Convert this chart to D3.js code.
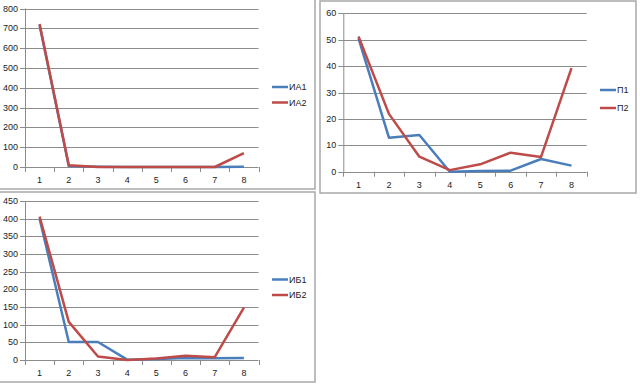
<!DOCTYPE html>
<html><head><meta charset="utf-8">
<script src="https://cdn.jsdelivr.net/npm/d3@7"></script>
<style>body{margin:0;background:#fff}svg{display:block}text{font-family:"Liberation Sans",Arial,sans-serif;font-size:9px;fill:#222}</style>
</head><body>
<svg id="c" width="640" height="390"></svg>
<script>
const categories = [1,2,3,4,5,6,7,8];
const seriesIA1 = [715, 5, 1, 0, 0, 0, 0, 1];
const seriesIA2 = [722, 9, 0, 0, 0, 0, 0, 70];
const seriesP1 = [50.5, 12.9, 13.9, 0, 0.3, 0.4, 4.8, 2.3];
const seriesP2 = [51.2, 21.9, 5.7, 0.6, 2.8, 7.2, 5.6, 39.2];
const seriesIB1 = [400, 51, 51, 1, 3, 6, 5, 6];
const seriesIB2 = [406, 108, 10, 0, 4, 12, 8, 148];
const ticksIA = [0,100,200,300,400,500,600,700,800];
const ticksP = [0,10,20,30,40,50,60];
const ticksIB = [0,50,100,150,200,250,300,350,400,450];
const namesIA = ["ИА1","ИА2"], namesP = ["П1","П2"], namesIB = ["ИБ1","ИБ2"];
const colors = ["#4a7ebb","#be4b48"];

const svg = d3.select("#c");

function chart(o){
  const g = svg.append("g");
  g.append("rect").attr("x",o.box[0]).attr("y",o.box[1]).attr("width",o.box[2]-o.box[0]).attr("height",o.box[3]-o.box[1])
    .attr("fill","none").attr("stroke","#a8a8a8").attr("stroke-width",1.5);
  const x = d3.scaleBand().domain(o.cats).range([o.plot[0],o.plot[2]]);
  const y = d3.scaleLinear().domain([0,d3.max(o.ticks)]).range([o.plot[3],o.plot[1]]);
  // gridlines
  g.selectAll(".gl").data(o.ticks).enter().append("line")
    .attr("x1",o.plot[0]-5).attr("x2",o.plot[2]).attr("y1",d=>Math.round(y(d))+0.5).attr("y2",d=>Math.round(y(d))+0.5)
    .attr("stroke","#8c8c8c").attr("stroke-width",1);
  // y axis line
  g.append("line").attr("x1",o.plot[0]+0.5).attr("x2",o.plot[0]+0.5).attr("y1",o.plot[1]).attr("y2",o.plot[3]).attr("stroke","#8c8c8c");
  // y labels
  g.selectAll(".yl").data(o.ticks).enter().append("text")
    .attr("x",o.plot[0]-7).attr("y",d=>y(d)+3).attr("text-anchor","end").text(d=>d);
  // x ticks at category boundaries
  const bounds = o.cats.map(c=>x(c)).concat([o.plot[2]]);
  g.selectAll(".xt").data(bounds).enter().append("line")
    .attr("x1",d=>Math.round(d)+0.5).attr("x2",d=>Math.round(d)+0.5).attr("y1",o.plot[3]).attr("y2",o.plot[3]+5).attr("stroke","#8c8c8c");
  g.selectAll(".xl").data(o.cats).enter().append("text")
    .attr("x",d=>x(d)+x.bandwidth()/2).attr("y",o.plot[3]+16).attr("text-anchor","middle").text(d=>d);
  const line = d3.line().x((d,i)=>x(o.cats[i])+x.bandwidth()/2).y(d=>y(d));
  o.series.forEach((s,i)=>{
    g.append("path").attr("d",line(s)).attr("fill","none").attr("stroke",colors[i]).attr("stroke-width",2.5).attr("stroke-linejoin","round");
  });
  o.names.forEach((n,i)=>{
    const ly = o.legend[1]+i*o.legend[2];
    g.append("line").attr("x1",o.legend[0]).attr("x2",o.legend[0]+16).attr("y1",ly).attr("y2",ly).attr("stroke",colors[i]).attr("stroke-width",2.5);
    g.append("text").attr("x",o.legend[0]+17).attr("y",ly+3).text(n);
  });
}

chart({box:[-2,-2,315,189], plot:[25,8.5,258.5,167], cats:categories, ticks:ticksIA, series:[seriesIA1,seriesIA2], names:namesIA, legend:[272,87,15.5]});
chart({box:[320,1,636,193], plot:[343.3,13.3,586.7,171.7], cats:categories, ticks:ticksP, series:[seriesP1,seriesP2], names:namesP, legend:[600,90,18]});
chart({box:[-2,192,315,382], plot:[25,201,258.5,360], cats:categories, ticks:ticksIB, series:[seriesIB1,seriesIB2], names:namesIB, legend:[272,279.5,15.5]});
</script>
</body></html>
